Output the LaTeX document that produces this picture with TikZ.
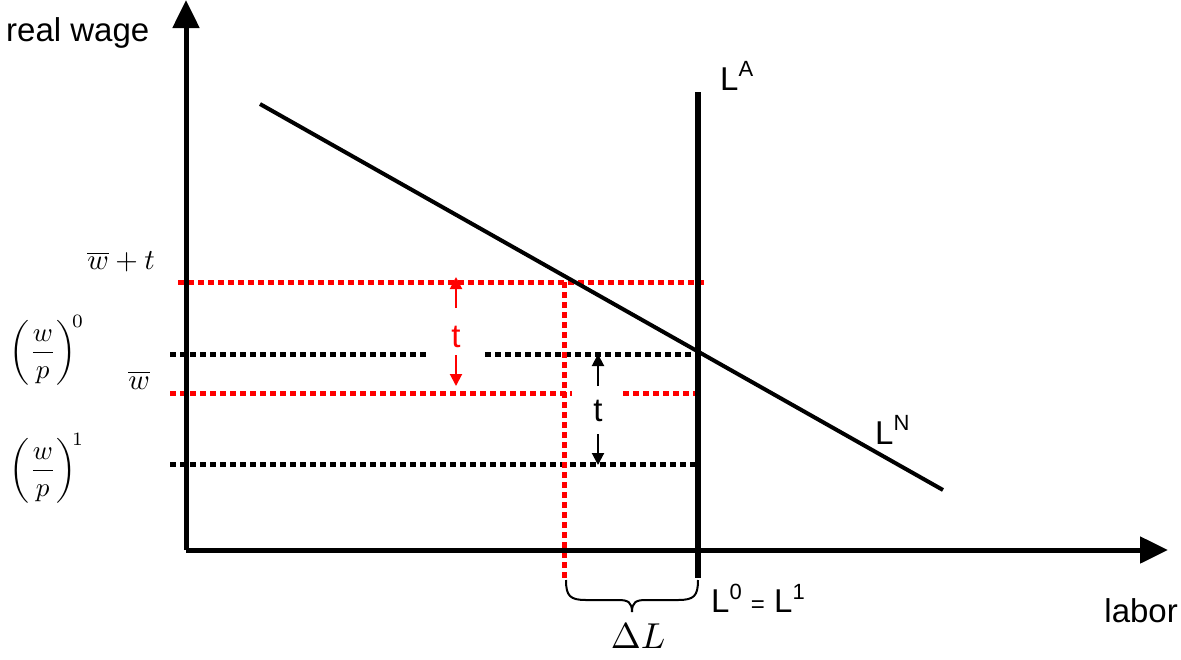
\documentclass[tikz,border=0pt]{standalone}
\usepackage{graphicx}
\usepackage{fontspec}
\setmainfont{Liberation Sans}
\usetikzlibrary{arrows.meta}
\begin{document}
\begin{tikzpicture}[x=1pt,y=-1pt,
  axis/.style={line width=5pt,-{Triangle[width=26pt,length=28pt]}},
  curve/.style={line width=4pt},
  reddot/.style={red,line width=5pt,dash pattern=on 6pt off 4pt},
  blackdot/.style={black,line width=5pt,dash pattern=on 6pt off 4pt},
  smallarr/.style={line width=2pt,-{Triangle[width=12pt,length=12pt]}},
  lbl/.style={font=\fontsize{33}{38}\selectfont,inner sep=0pt},
  mlbl/.style={inner sep=0pt}]
\useasboundingbox (0,0) rectangle (1181,659);
% coordinates
\coordinate (O) at (186,550);
\coordinate (Ytop) at (186,0);
\coordinate (Xend) at (1168,550);
\coordinate (LNa) at (260,104);
\coordinate (LNb) at (943,490);
\coordinate (LAa) at (698,92);
\coordinate (LAb) at (698,578);
% dotted lines
\coordinate (r1a) at (178,282); \coordinate (r1b) at (706,282);
\coordinate (b1a) at (170,354); \coordinate (b1b) at (428,354);
\coordinate (b1c) at (485,354); \coordinate (b1d) at (698,354);
\coordinate (r2a) at (170,393); \coordinate (r2b) at (572,393);
\coordinate (r2c) at (623,393); \coordinate (r2d) at (698,393);
\coordinate (b2a) at (170,464); \coordinate (b2b) at (698,464);
\coordinate (rva) at (564,282); \coordinate (rvb) at (564,580);
\draw[reddot] (r1a) -- (r1b);
\draw[blackdot] (b1a) -- (b1b);
\draw[blackdot] (b1c) -- (b1d);
\draw[reddot] (r2a) -- (r2b);
\draw[reddot] (r2c) -- (r2d);
\draw[blackdot] (b2a) -- (b2b);
\draw[reddot] (rva) -- (rvb);
% axes
\draw[axis] (O) -- (Ytop);
\draw[axis] (O) -- (Xend);
% curves
\draw[curve] (LNa) -- (LNb);
\draw[line width=6pt] (LAa) -- (LAb);
% t arrows
\coordinate (ra1) at (456,308); \coordinate (ra1t) at (456,277);
\coordinate (ra2) at (456,355); \coordinate (ra2t) at (456,386);
\draw[smallarr,red] (ra1) -- (ra1t);
\draw[smallarr,red] (ra2) -- (ra2t);
\node[lbl,red] (tr) at (456,337) {t};
\coordinate (ba1) at (598,386); \coordinate (ba1t) at (598,354);
\coordinate (ba2) at (598,434); \coordinate (ba2t) at (598,465);
\draw[smallarr] (ba1) -- (ba1t);
\draw[smallarr] (ba2) -- (ba2t);
\node[lbl] (tb) at (598,411) {t};
% brace
\draw[line width=2pt] (566,580) .. controls (566,596) and (570,600) .. (586,600)
  -- (618,600) .. controls (628,600) and (632,602) .. (632,612);
\draw[line width=2pt] (698,580) .. controls (698,596) and (694,600) .. (678,600)
  -- (646,600) .. controls (636,600) and (632,602) .. (632,612);
% labels
\node[lbl,anchor=west] (rw) at (6,33) {real wage};
\node[lbl,anchor=east] (lab) at (1178,611) {labor};
\node[lbl,anchor=west] (LA) at (720,76) {L\raisebox{0.45em}{\fontsize{22}{24}\selectfont A}};
\node[lbl,anchor=west] (LN) at (875,430) {L\raisebox{0.45em}{\fontsize{22}{24}\selectfont N}};
\node[lbl,anchor=west] (L01) at (711,598) {L\raisebox{0.4em}{\fontsize{22}{24}\selectfont 0} {\fontsize{24}{26}\selectfont =} L\raisebox{0.4em}{\fontsize{22}{24}\selectfont 1}};
\node[mlbl] (DL) at (638,636) {\scalebox{3.6}{$\Delta L$}};
\node[mlbl,anchor=east] (wt) at (155,262) {\scalebox{2.9}{$\overline{w}+t$}};
\node[mlbl,anchor=east] (w) at (150,380) {\scalebox{2.9}{$\overline{w}$}};
\node[mlbl] (wp0) at (47,350) {\scalebox{2.7}{$\displaystyle\left(\frac{w}{p}\right)^{\!0}$}};
\node[mlbl] (wp1) at (47,468) {\scalebox{2.7}{$\displaystyle\left(\frac{w}{p}\right)^{\!1}$}};
\end{tikzpicture}
\end{document}
